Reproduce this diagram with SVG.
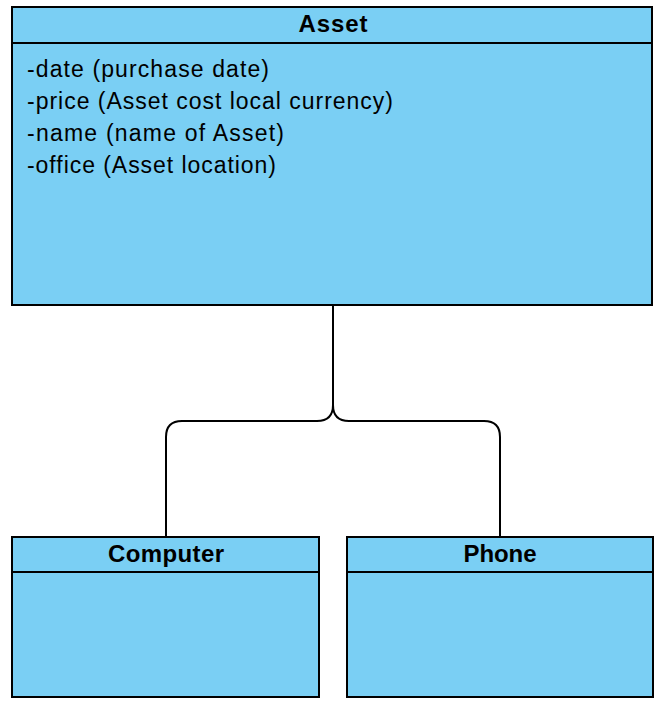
<svg xmlns="http://www.w3.org/2000/svg" width="661" height="711" viewBox="0 0 661 711">
<style>
.box{fill:#7acff4;stroke:#000;stroke-width:2}
.sep{stroke:#000;stroke-width:2}
.title{font-family:"Liberation Sans",Arial,sans-serif;font-size:24px;font-weight:bold;text-anchor:middle;fill:#000}
.attr{font-family:"Liberation Sans",Arial,sans-serif;font-size:23px;fill:#000}
.conn{fill:none;stroke:#000;stroke-width:2}
</style>
<rect width="661" height="711" fill="#fff"/>
<g id="connectors">
<path class="conn" d="M333,305 V405 Q333,421 317,421 H182 Q166,421 166,437 V537"/>
<path class="conn" d="M333,405 Q333,421 349,421 H484 Q500,421 500,437 V537"/>
</g>
<g id="asset">
<rect class="box" x="12" y="7" width="640" height="298"/>
<line class="sep" x1="12" y1="43" x2="652" y2="43"/>
<text class="title" x="333" y="32" textLength="69" lengthAdjust="spacing">Asset</text>
<text class="attr" x="27" y="77" textLength="242" lengthAdjust="spacing">-date (purchase date)</text>
<text class="attr" x="27" y="109" textLength="366" lengthAdjust="spacing">-price (Asset cost local currency)</text>
<text class="attr" x="27" y="141" textLength="257" lengthAdjust="spacing">-name (name of Asset)</text>
<text class="attr" x="27" y="173" textLength="249" lengthAdjust="spacing">-office (Asset location)</text>
</g>
<g id="computer">
<rect class="box" x="12" y="537" width="307" height="160"/>
<line class="sep" x1="12" y1="572" x2="319" y2="572"/>
<text class="title" x="166" y="562" textLength="116" lengthAdjust="spacing">Computer</text>
</g>
<g id="phone">
<rect class="box" x="347" y="537" width="306" height="160"/>
<line class="sep" x1="347" y1="572" x2="653" y2="572"/>
<text class="title" x="500" y="562" textLength="73" lengthAdjust="spacing">Phone</text>
</g>
</svg>
